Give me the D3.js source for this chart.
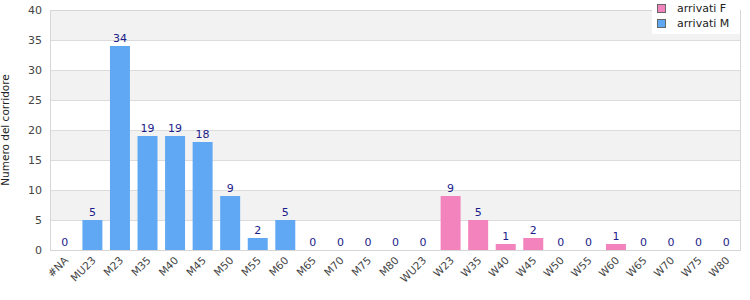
<html lang="it">
<head>
<meta charset="UTF-8">
<title>arrivati</title>
<style>
  body { margin: 0; background: #fff; }
  svg text { font-family: "DejaVu Sans", Verdana, sans-serif; }
</style>
</head>
<body>
<svg id="chart" width="750" height="300"></svg>
<script src="https://d3js.org/d3.v7.min.js"></script>
<script>
// categorie e valori
const categories = ["#NA","MU23","M23","M35","M40","M45","M50","M55","M60","M65","M70","M75","M80",
                    "WU23","W23","W35","W40","W45","W50","W55","W60","W65","W70","W75","W80"];
const arrivatiM = [0,5,34,19,19,18,9,2,5,0,0,0,0,0,null,null,null,null,null,null,null,null,null,null,null];
const arrivatiF = [null,null,null,null,null,null,null,null,null,null,null,null,null,null,9,5,1,2,0,0,1,0,0,0,0];
const yTicks = [0,5,10,15,20,25,30,35,40];
const legendLabels = ["arrivati F", "arrivati M"];

const colM = "#60a8f4", colF = "#f283bd";
const m = { left: 50, right: 10, top: 10, bottom: 50 };
const W = 750, H = 300;
const svg = d3.select("#chart");

const x = d3.scaleBand().domain(categories).range([m.left + 1, W - m.right]).paddingInner(0.275).paddingOuter(0.14);
const y = d3.scaleLinear().domain([0, 40]).range([H - m.bottom, m.top]);

// bande alternate
for (let i = 0; i < yTicks.length - 1; i++) {
  svg.append("rect")
    .attr("x", m.left).attr("width", W - m.right - m.left)
    .attr("y", y(yTicks[i + 1])).attr("height", y(yTicks[i]) - y(yTicks[i + 1]))
    .attr("fill", i % 2 ? "#f2f2f2" : "#fff");
}
// griglia
svg.append("g").selectAll("line").data(yTicks).join("line")
  .attr("x1", m.left).attr("x2", W - m.right)
  .attr("y1", d => Math.round(y(d)) + 0.5).attr("y2", d => Math.round(y(d)) + 0.5)
  .attr("stroke", "#dcdcdc");
svg.append("rect").attr("x", m.left + 0.5).attr("y", m.top + 0.5)
  .attr("width", W - m.right - m.left).attr("height", H - m.bottom - m.top)
  .attr("fill", "none").attr("stroke", "#d6d6d6");

// asse y
svg.append("g").selectAll("text").data(yTicks).join("text")
  .attr("x", m.left - 8).attr("y", d => y(d) + 4)
  .attr("text-anchor", "end").attr("font-size", 11).attr("fill", "#444")
  .text(d => d);
svg.append("text")
  .attr("transform", `translate(9,${(m.top + H - m.bottom) / 2}) rotate(-90)`)
  .attr("text-anchor", "middle").attr("font-size", 10.5).attr("fill", "#222")
  .text("Numero del corridore");

// barre
const rows = categories.map((c, i) => ({ c, m: arrivatiM[i], f: arrivatiF[i] }));
svg.append("g").selectAll("rect").data(rows.filter(d => d.m)).join("rect")
  .attr("x", d => x(d.c)).attr("width", x.bandwidth())
  .attr("y", d => y(d.m)).attr("height", d => y(0) - y(d.m))
  .attr("fill", colM);
svg.append("g").selectAll("rect").data(rows.filter(d => d.f)).join("rect")
  .attr("x", d => x(d.c)).attr("width", x.bandwidth())
  .attr("y", d => y(d.f)).attr("height", d => y(0) - y(d.f))
  .attr("fill", colF);

// etichette valori
svg.append("g").selectAll("text").data(rows).join("text")
  .attr("x", d => x(d.c) + x.bandwidth() / 2)
  .attr("y", d => y(d.m ?? d.f) - 4)
  .attr("text-anchor", "middle").attr("font-size", 11).attr("fill", "#1c1c8a")
  .text(d => d.m ?? d.f);

// etichette x
svg.append("g").selectAll("text").data(categories).join("text")
  .attr("transform", d => `translate(${x(d) + x.bandwidth() / 2 + 4},${H - m.bottom + 11}) rotate(-45)`)
  .attr("text-anchor", "end").attr("font-size", 10.5).attr("fill", "#444")
  .text(d => d);

// legenda
const lg = svg.append("g").attr("transform", "translate(652,0)");
lg.append("rect").attr("width", 88).attr("height", 34).attr("fill", "#fff");
[colF, colM].forEach((c, i) => {
  lg.append("rect").attr("x", 5.5).attr("y", 4.5 + i * 15).attr("width", 8).attr("height", 8)
    .attr("fill", c).attr("stroke", "#666");
  lg.append("text").attr("x", 25).attr("y", 12 + i * 15).attr("font-size", 11).attr("fill", "#222")
    .text(legendLabels[i]);
});
</script>
</body>
</html>
